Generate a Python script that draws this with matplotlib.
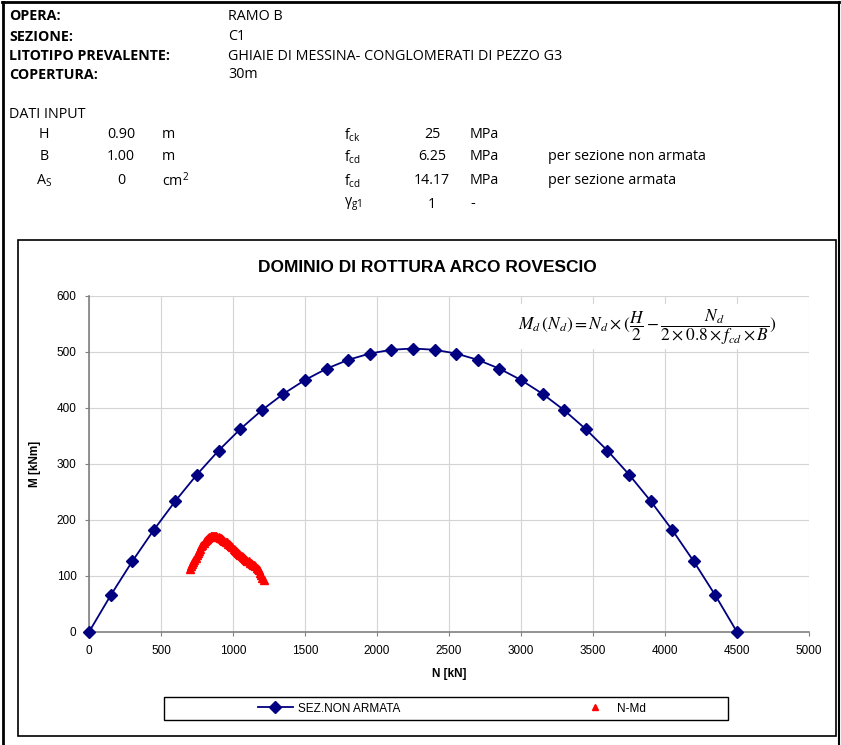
import matplotlib
matplotlib.use("Agg")
import matplotlib.pyplot as plt
from matplotlib.patches import Rectangle
from matplotlib.lines import Line2D

# ---------------- data ----------------
N_dom = [0, 150, 300, 450, 600, 750, 900, 1050, 1200, 1350, 1500, 1650, 1800, 1950, 2100,
         2250, 2400, 2550, 2700, 2850, 3000, 3150, 3300, 3450, 3600, 3750, 3900, 4050, 4200,
         4350, 4500]
M_dom = [0, 65.25, 126, 182.25, 234, 281.25, 324, 362.25, 396, 425.25, 450, 470.25, 486,
         497.25, 504, 506.25, 504, 497.25, 486, 470.25, 450, 425.25, 396, 362.25, 324,
         281.25, 234, 182.25, 126, 65.25, 0]

N_md = [700, 708, 716, 724, 732, 740, 748, 756, 764, 772, 780, 788, 796, 804, 812, 820,
        828, 836, 844, 852, 860, 868, 876, 884, 892, 900, 908, 916, 924, 932, 940, 948,
        956, 964, 972, 980, 988, 996, 1004, 1012, 1020, 1028, 1036, 1044, 1052, 1060,
        1068, 1076, 1084, 1092, 1100, 1108, 1116, 1124, 1132, 1140, 1148, 1156, 1164,
        1172, 1180, 1188, 1196, 1204, 1212]
M_md = [113, 117, 121, 125, 129, 133, 137, 141, 145, 149, 153, 156, 159, 162, 164, 166,
        168, 169, 171, 172, 172, 172, 172, 171, 170, 169, 168, 167, 166, 164, 163, 161,
        160, 158, 157, 155, 153, 151, 149, 147, 145, 143, 141, 139, 137, 135, 134, 132,
        130, 129, 127, 126, 124, 123, 121, 120, 119, 117, 115, 113, 110, 106, 101, 96, 92]

x_ticks = [0, 500, 1000, 1500, 2000, 2500, 3000, 3500, 4000, 4500, 5000]
y_ticks = [0, 100, 200, 300, 400, 500, 600]

header_labels = ["OPERA:", "SEZIONE:", "LITOTIPO PREVALENTE:", "COPERTURA:"]
header_values = ["RAMO B", "C1", "GHIAIE DI MESSINA- CONGLOMERATI DI PEZZO G3", "30m"]

W, H = 841, 745
fig = plt.figure(figsize=(W / 100, H / 100), dpi=100)
fig.patch.set_facecolor("white")

def fx(px):
    return px / W

def fy(py):
    return 1 - py / H

hfont = ["Open Sans", "DejaVu Sans"]
cfont = ["Liberation Sans", "DejaVu Sans"]
HS = 10.3

# outer frame
fig.add_artist(Line2D([fx(3), fx(3)], [fy(2), fy(745)], color="black", lw=2))
fig.add_artist(Line2D([fx(2), fx(839)], [fy(2), fy(2)], color="black", lw=2))
fig.add_artist(Line2D([fx(839), fx(839)], [fy(2), fy(745)], color="black", lw=1.5))

# header
hy = [16, 37, 56, 75]
for lab, val, y in zip(header_labels, header_values, hy):
    fig.text(fx(9), fy(y), lab, fontsize=HS, fontweight="bold", family=hfont, va="center", ha="left")
    fig.text(fx(228), fy(y), val, fontsize=HS, family=hfont, va="center", ha="left")

fig.text(fx(9), fy(115), "DATI INPUT", fontsize=HS, family=hfont, va="center")
rows = [
    (135, "H", "0.90", "m", r"f$_{\mathregular{ck}}$", "25", "MPa", ""),
    (157, "B", "1.00", "m", r"f$_{\mathregular{cd}}$", "6.25", "MPa", "per sezione non armata"),
    (181, r"A$_{\mathregular{S}}$", "0", r"cm$^{\mathregular{2}}$", r"f$_{\mathregular{cd}}$", "14.17", "MPa", "per sezione armata"),
    (204, "", "", "", r"γ$_{\mathregular{g1}}$", "1", "-", ""),
]
for y, a, b, c, d, e, f, g in rows:
    fig.text(fx(44), fy(y), a, fontsize=HS, family=hfont, va="center", ha="center")
    fig.text(fx(121), fy(y), b, fontsize=HS, family=hfont, va="center", ha="center")
    fig.text(fx(162), fy(y), c, fontsize=HS, family=hfont, va="center", ha="left")
    fig.text(fx(344), fy(y), d, fontsize=HS, family=hfont, va="center", ha="left")
    fig.text(fx(432), fy(y), e, fontsize=HS, family=hfont, va="center", ha="center")
    fig.text(fx(470), fy(y), f, fontsize=HS, family=hfont, va="center", ha="left")
    fig.text(fx(548), fy(y), g, fontsize=HS, family=hfont, va="center", ha="left")

# chart box
fig.add_artist(Rectangle((fx(18), fy(736)), fx(836) - fx(18), fy(240) - fy(736),
                         fill=False, edgecolor="black", lw=1.2, transform=fig.transFigure))

fig.text(fx(427), fy(267), "DOMINIO DI ROTTURA ARCO ROVESCIO", fontsize=12.5, fontweight="bold",
         family=cfont, ha="center", va="center")

ax = fig.add_axes([fx(89), fy(632), fx(809) - fx(89), fy(296) - fy(632)])
ax.set_xlim(0, 5000)
ax.set_ylim(0, 600)
ax.set_xticks(x_ticks)
ax.set_yticks(y_ticks)
ax.grid(True, color="#d4d4d4", lw=0.8)
ax.set_axisbelow(True)
for s in ["top", "right"]:
    ax.spines[s].set_visible(False)
for s in ["left", "bottom"]:
    ax.spines[s].set_color("#808080")
    ax.spines[s].set_linewidth(1.2)
ax.tick_params(direction="out", length=3, color="#808080", labelsize=8.5, pad=6)
for lbl in ax.get_xticklabels() + ax.get_yticklabels():
    lbl.set_family(cfont)

ax.plot(N_dom, M_dom, color="#000080", lw=1.3, marker="D", markersize=6,
        label="SEZ.NON ARMATA", clip_on=False, zorder=3)
ax.plot(N_md, M_md, linestyle="none", color="red", marker="^", markersize=6,
        label="N-Md", zorder=4)

ax.set_xlabel("N [kN]", fontsize=8.5, fontweight="bold", family=cfont, labelpad=8)
ax.set_ylabel("M [kNm]", fontsize=8.5, fontweight="bold", family=cfont)
ax.yaxis.set_label_coords(-(89 - 41) / 720, 0.5)

ax.text(3875, 545,
        r"$M_d\,(N_d) = N_d \times (\dfrac{H}{2} - \dfrac{N_d}{2\times 0.8 \times f_{cd} \times B})$",
        fontsize=12.5, ha="center", va="center", math_fontfamily="stix",
        bbox=dict(facecolor="white", edgecolor="none", pad=2), zorder=5)

# legend
fig.add_artist(Rectangle((fx(164), fy(720)), fx(728) - fx(164), fy(697) - fy(720),
                         fill=False, edgecolor="black", lw=1.0, transform=fig.transFigure))
leg = fig.legend(loc="center", bbox_to_anchor=(fx(452), fy(708.5)), ncol=2, frameon=False,
                 columnspacing=15.0, handlelength=3, handletextpad=0.4,
                 prop={"family": cfont, "size": 8.5})
leg.legend_handles[1].set_markersize(5)

fig.savefig("out.png", dpi=100)
